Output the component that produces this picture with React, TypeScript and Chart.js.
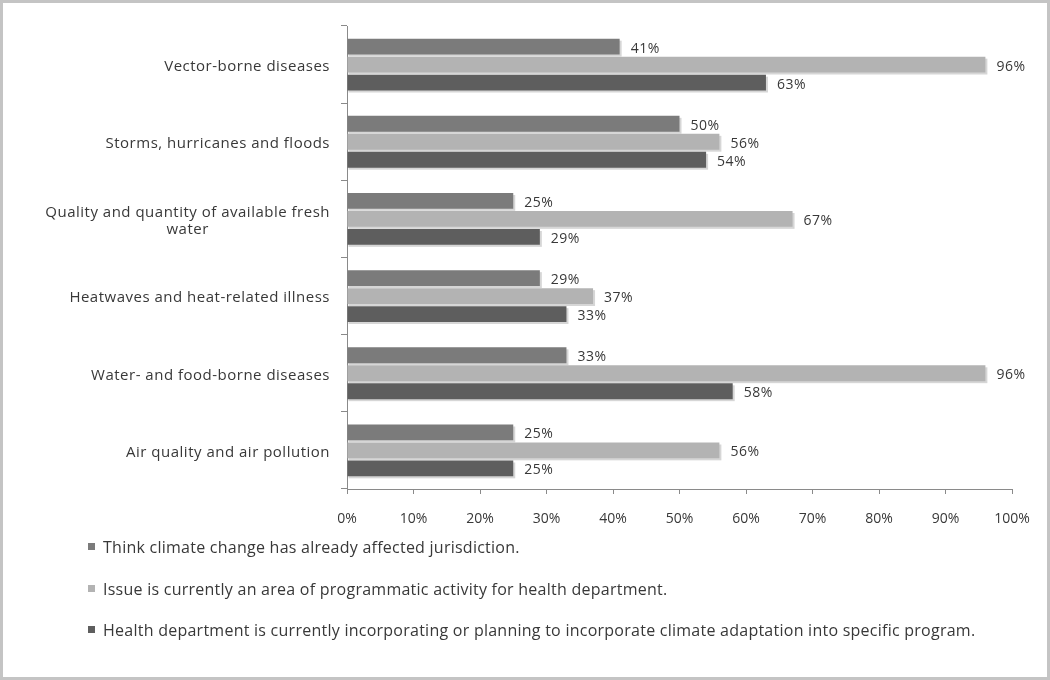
import React, { useEffect, useRef } from "react";
import { Chart, registerables } from "chart.js";

Chart.register(...registerables);

const categories: string[][] = [
  ["Vector-borne diseases"],
  ["Storms, hurricanes and floods"],
  ["Quality and quantity of available fresh", "water"],
  ["Heatwaves and heat-related illness"],
  ["Water- and food-borne diseases"],
  ["Air quality and air pollution"],
];

const seriesNames = [
  "Think climate change has already affected jurisdiction.",
  "Issue is currently an area of programmatic activity for health department.",
  "Health department is currently incorporating or planning to incorporate climate adaptation into specific program.",
];

const affected = [41, 50, 25, 29, 33, 25];
const programmatic = [96, 56, 67, 37, 96, 56];
const adaptation = [63, 54, 29, 33, 58, 25];

const xTicks = [0, 10, 20, 30, 40, 50, 60, 70, 80, 90, 100];

const colors = ["#7b7b7b", "#b3b3b3", "#5e5e5e"];
const FONT = "'Open Sans', sans-serif";
const TEXT = "#383838";

const bgPlugin = {
  id: "bgPlugin",
  beforeDraw(chart: any) {
    const ctx = chart.ctx;
    ctx.save();
    ctx.fillStyle = "#ffffff";
    ctx.fillRect(0, 0, chart.width, chart.height);
    ctx.restore();
  },
  afterDraw(chart: any) {
    const ctx = chart.ctx;
    ctx.save();
    ctx.strokeStyle = "#c4c4c4";
    ctx.lineWidth = 3;
    ctx.strokeRect(1.5, 1.5, chart.width - 3, chart.height - 3);
    ctx.restore();
  },
};

const shadowPlugin = {
  id: "shadowPlugin",
  beforeDatasetsDraw(chart: any) {
    const ctx = chart.ctx;
    ctx.save();
    ctx.fillStyle = "#d6d6d6";
    chart.data.datasets.forEach((_: any, di: number) => {
      const meta = chart.getDatasetMeta(di);
      meta.data.forEach((el: any) => {
        const p = el.getProps(["x", "y", "base", "height"], true);
        ctx.fillRect(p.base + 1, p.y - p.height / 2 + 2, p.x - p.base + 1, p.height);
      });
    });
    ctx.restore();
  },
};

const valueLabelPlugin = {
  id: "valueLabelPlugin",
  afterDatasetsDraw(chart: any) {
    const ctx = chart.ctx;
    ctx.save();
    ctx.font = `14px ${FONT}`;
    (ctx as any).letterSpacing = "0.5px";
    ctx.fillStyle = TEXT;
    ctx.textAlign = "left";
    ctx.textBaseline = "middle";
    chart.data.datasets.forEach((ds: any, di: number) => {
      const meta = chart.getDatasetMeta(di);
      meta.data.forEach((el: any, i: number) => {
        const p = el.getProps(["x", "y"], true);
        ctx.fillText(`${ds.data[i]}%`, p.x + 11, p.y + 2);
      });
    });
    ctx.restore();
  },
};

const yLabelPlugin = {
  id: "yLabelPlugin",
  afterDraw(chart: any) {
    const ctx = chart.ctx;
    const yScale = chart.scales.y;
    ctx.save();
    ctx.font = `15px ${FONT}`;
    (ctx as any).letterSpacing = "0.5px";
    ctx.fillStyle = TEXT;
    ctx.textAlign = "center";
    ctx.textBaseline = "middle";
    const rightEdge = chart.chartArea.left - 17;
    const lh = 17;
    categories.forEach((lines, i) => {
      const y = yScale.getPixelForValue(i);
      const w = Math.max(...lines.map((l) => ctx.measureText(l).width));
      const cx = rightEdge - w / 2;
      const y0 = y + 2 - ((lines.length - 1) * lh) / 2;
      lines.forEach((l, j) => ctx.fillText(l, cx, y0 + j * lh));
    });
    ctx.restore();
  },
};

const legendPlugin = {
  id: "legendPlugin",
  afterDraw(chart: any) {
    const ctx = chart.ctx;
    ctx.save();
    ctx.font = `16px ${FONT}`;
    (ctx as any).letterSpacing = "0.25px";
    ctx.textAlign = "left";
    ctx.textBaseline = "middle";
    const ys = [548, 590, 631];
    seriesNames.forEach((name, i) => {
      ctx.fillStyle = colors[i];
      ctx.fillRect(88, ys[i] - 5, 7, 7);
      ctx.fillStyle = TEXT;
      ctx.fillText(name, 103, ys[i]);
    });
    ctx.restore();
  },
};

export default function App() {
  const ref = useRef<HTMLCanvasElement | null>(null);
  useEffect(() => {
    if (!ref.current) return;
    const chart = new Chart(ref.current, {
      type: "bar",
      data: {
        labels: categories.map((c) => c.join(" ")),
        datasets: [
          { label: seriesNames[0], data: affected, backgroundColor: colors[0] },
          { label: seriesNames[1], data: programmatic, backgroundColor: colors[1] },
          { label: seriesNames[2], data: adaptation, backgroundColor: colors[2] },
        ],
      },
      options: {
        indexAxis: "y",
        responsive: false,
        animation: false,
        devicePixelRatio: 1,
        layout: { padding: { top: 26, right: 38, bottom: 151, left: 0 } },
        datasets: {
          bar: { categoryPercentage: 0.7, barPercentage: 0.88 },
        },
        plugins: {
          legend: { display: false },
          tooltip: { enabled: false },
        },
        scales: {
          x: {
            type: "linear",
            min: 0,
            max: 100,
            afterBuildTicks: (s: any) => {
              s.ticks = xTicks.map((v) => ({ value: v }));
            },
            afterFit: (s: any) => {
              s.height = 40;
            },
            ticks: {
              callback: (v: any) => `${v}%`,
              font: { family: FONT, size: 14 },
              color: TEXT,
              padding: 17,
              maxRotation: 0,
            },
            grid: { drawOnChartArea: false, drawTicks: true, tickLength: 5, color: "#8a8a8a" },
            border: { display: true, color: "#8a8a8a" },
          },
          y: {
            type: "category",
            afterFit: (s: any) => {
              s.width = 347;
            },
            ticks: { display: false },
            grid: { drawOnChartArea: false, drawTicks: true, tickLength: 6, color: "#8a8a8a", offset: true },
            border: { display: true, color: "#8a8a8a" },
          },
        },
      },
      plugins: [bgPlugin, shadowPlugin, valueLabelPlugin, yLabelPlugin, legendPlugin],
    } as any);
    return () => chart.destroy();
  }, []);
  return (
    <div style={{ position: "fixed", left: 0, top: 0, width: 1050, height: 680 }}>
      <canvas ref={ref} width={1050} height={680} style={{ width: 1050, height: 680 }} />
    </div>
  );
}
